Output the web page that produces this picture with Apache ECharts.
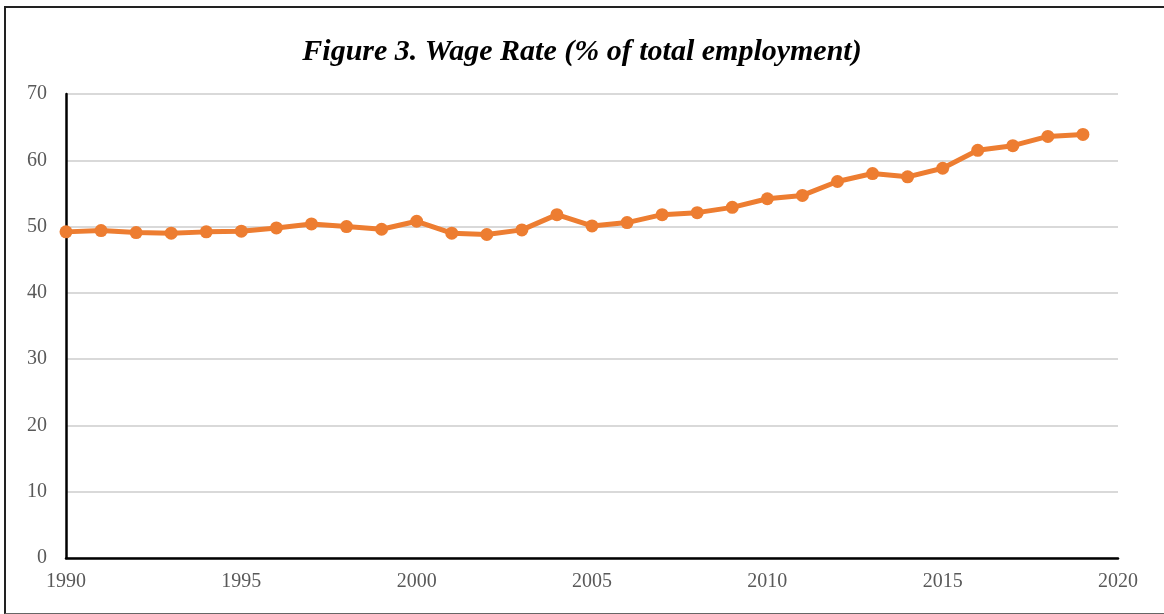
<!DOCTYPE html>
<html>
<head>
<meta charset="utf-8">
<script src="https://cdn.jsdelivr.net/npm/echarts@6/dist/echarts.min.js"></script>
<style>
  html, body { margin: 0; padding: 0; background: #fff; }
  #frame {
    position: absolute; left: 4px; top: 6px; width: 1160px; height: 605px;
    border-left: 2px solid #222; border-top: 2px solid #222; border-bottom: 1px solid #666;
  }
  #chart { position: absolute; left: 0; top: 0; width: 1164px; height: 614px; }
</style>
</head>
<body>
<div id="frame"></div>
<div id="chart"></div>
<script>
const years = [1990, 1991, 1992, 1993, 1994, 1995, 1996, 1997, 1998, 1999,
    2000, 2001, 2002, 2003, 2004, 2005, 2006, 2007, 2008, 2009,
    2010, 2011, 2012, 2013, 2014, 2015, 2016, 2017, 2018, 2019];
const wageRate = [49.2, 49.4, 49.1, 49.0, 49.2, 49.3, 49.8, 50.4, 50.0, 49.6,
    50.8, 49.0, 48.8, 49.5, 51.8, 50.1, 50.6, 51.8, 52.1, 52.9,
    54.2, 54.7, 56.8, 58.0, 57.5, 58.8, 61.5, 62.2, 63.6, 63.9];
const titleText = 'Figure 3. Wage Rate (% of total employment)';

const labelFont = { fontFamily: 'Liberation Serif', fontSize: 20, color: '#595959' };

let myChart = echarts.init(document.getElementById('chart'));
myChart.setOption({
    animation: false,
    title: {
        text: titleText,
        left: 'center',
        top: 32,
        textStyle: {
            fontFamily: 'Liberation Serif',
            fontStyle: 'italic',
            fontWeight: 'bold',
            fontSize: 30,
            color: '#000',
        },
    },
    grid: { left: 66, right: 46, top: 94, bottom: 56 },
    xAxis: {
        type: 'value',
        min: 1990,
        max: 2020,
        interval: 5,
        axisLine: { show: true, lineStyle: { color: '#000', width: 2.5 } },
        axisTick: { show: false },
        splitLine: { show: false },
        axisLabel: { ...labelFont, margin: 14, formatter: (v) => String(v) },
    },
    yAxis: {
        type: 'value',
        min: 0,
        max: 70,
        interval: 10,
        axisLine: { show: true, lineStyle: { color: '#000', width: 2.5 } },
        axisTick: { show: false },
        splitLine: { lineStyle: { color: '#d9d9d9', width: 2 } },
        axisLabel: { ...labelFont, margin: 19 },
    },
    series: [
        {
            type: 'line',
            data: years.map((y, i) => [y, wageRate[i]]),
            symbol: 'circle',
            symbolSize: 13,
            color: '#ED7D31',
            lineStyle: { width: 5, color: '#ED7D31' },
            itemStyle: { color: '#ED7D31' },
        },
    ],
});
</script>
</body>
</html>
